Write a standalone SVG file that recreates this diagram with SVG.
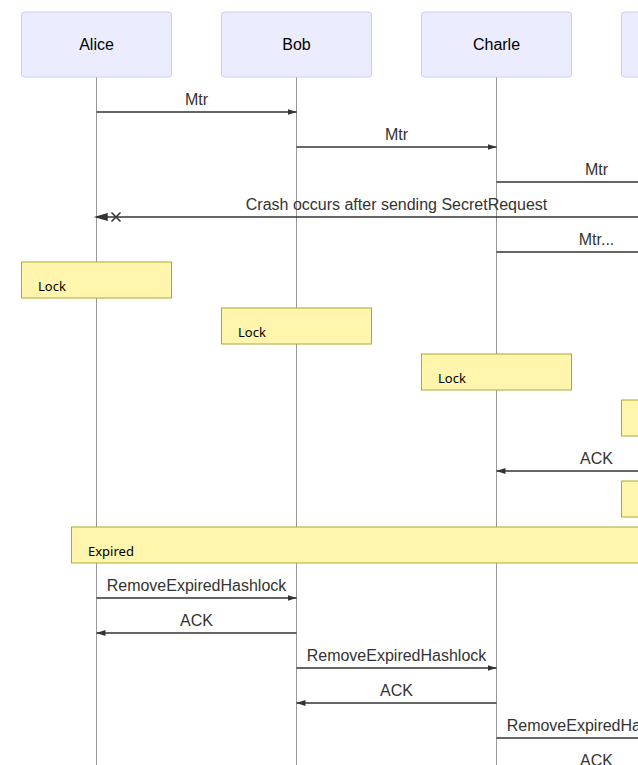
<svg xmlns="http://www.w3.org/2000/svg" width="638" height="765" viewBox="0 0 638 765">
<style>
.actor{fill:#ECECFF;stroke:#CCCCFF;stroke-width:1}
.atext{font-family:"Liberation Sans",Arial,sans-serif;font-size:16px;fill:#000;text-anchor:middle}
.life{stroke:#999;stroke-width:1}
.msg{stroke:#333;stroke-width:1.5;fill:none}
.mtext{font-family:"Liberation Sans",Arial,sans-serif;font-size:16px;fill:#333;text-anchor:middle}
.note{fill:#fff5ad;stroke:#aaaa33;stroke-width:1}
.ntext{font-family:"Noto Sans","Liberation Sans",sans-serif;font-size:13px;fill:#000}
</style>
<defs>
<marker id="arrowhead" refX="6" refY="2" markerWidth="6" markerHeight="4" orient="auto"><path d="M 0,0 V 4 L6,2 Z" fill="#333"/></marker>
<marker id="crosshead" markerWidth="16" markerHeight="8" orient="auto" refX="16" refY="4" overflow="visible"><path fill="#333" stroke="#333" stroke-width="1" d="M 9,2 V 6 L16,4 Z"/><path fill="none" stroke="#333" stroke-width="1" d="M 0,1 L 6,7 M 6,1 L 0,7"/></marker>
</defs>
<g id="lifelines">
<line class="life" x1="96.5" y1="77" x2="96.5" y2="765"/>
<line class="life" x1="296.5" y1="77" x2="296.5" y2="765"/>
<line class="life" x1="496.5" y1="77" x2="496.5" y2="765"/>
<line class="life" x1="696.5" y1="77" x2="696.5" y2="765"/>
</g>
<g id="actor-alice"><rect class="actor" x="21.5" y="12" width="150" height="65" rx="3"/><text class="atext" x="96.5" y="50">Alice</text></g>
<g id="actor-bob"><rect class="actor" x="221.5" y="12" width="150" height="65" rx="3"/><text class="atext" x="296.5" y="50">Bob</text></g>
<g id="actor-charle"><rect class="actor" x="421.5" y="12" width="150" height="65" rx="3"/><text class="atext" x="496.5" y="50">Charle</text></g>
<g id="actor-d"><rect class="actor" x="621.5" y="12" width="150" height="65" rx="3"/></g>
<g id="connectors">
<line class="msg" x1="96.5" y1="112" x2="296.5" y2="112" marker-end="url(#arrowhead)"/>
<text class="mtext" x="196.5" y="105">Mtr</text>
<line class="msg" x1="296.5" y1="147" x2="496.5" y2="147" marker-end="url(#arrowhead)"/>
<text class="mtext" x="396.5" y="140">Mtr</text>
<line class="msg" x1="496.5" y1="182" x2="696.5" y2="182" marker-end="url(#arrowhead)"/>
<text class="mtext" x="596.5" y="175">Mtr</text>
<line class="msg" x1="696.5" y1="217" x2="96.5" y2="217" marker-end="url(#crosshead)"/>
<text class="mtext" x="396.5" y="210">Crash occurs after sending SecretRequest</text>
<line class="msg" x1="496.5" y1="252" x2="696.5" y2="252" marker-end="url(#arrowhead)"/>
<text class="mtext" x="596.5" y="245">Mtr...</text>
<line class="msg" x1="696.5" y1="471" x2="496.5" y2="471" marker-end="url(#arrowhead)"/>
<text class="mtext" x="596.5" y="464">ACK</text>
<line class="msg" x1="96.5" y1="598" x2="296.5" y2="598" marker-end="url(#arrowhead)"/>
<text class="mtext" x="196.5" y="591">RemoveExpiredHashlock</text>
<line class="msg" x1="296.5" y1="633" x2="96.5" y2="633" marker-end="url(#arrowhead)"/>
<text class="mtext" x="196.5" y="626">ACK</text>
<line class="msg" x1="296.5" y1="668" x2="496.5" y2="668" marker-end="url(#arrowhead)"/>
<text class="mtext" x="396.5" y="661">RemoveExpiredHashlock</text>
<line class="msg" x1="496.5" y1="703" x2="296.5" y2="703" marker-end="url(#arrowhead)"/>
<text class="mtext" x="396.5" y="696">ACK</text>
<line class="msg" x1="496.5" y1="738" x2="696.5" y2="738" marker-end="url(#arrowhead)"/>
<text class="mtext" x="596.5" y="731">RemoveExpiredHashlock</text>
<line class="msg" x1="696.5" y1="773" x2="496.5" y2="773" marker-end="url(#arrowhead)"/>
<text class="mtext" x="596.5" y="766">ACK</text>
</g>
<g id="note-lock-alice"><rect class="note" x="21.5" y="262" width="150" height="36"/><text class="ntext" x="38" y="291">Lock</text></g>
<g id="note-lock-bob"><rect class="note" x="221.5" y="308" width="150" height="36"/><text class="ntext" x="238" y="337">Lock</text></g>
<g id="note-lock-charle"><rect class="note" x="421.5" y="354" width="150" height="36"/><text class="ntext" x="438" y="383">Lock</text></g>
<g id="note-lock-d"><rect class="note" x="621.5" y="400" width="150" height="36"/></g>
<g id="note-d-2"><rect class="note" x="621.5" y="481" width="150" height="36"/></g>
<g id="note-expired"><rect class="note" x="71.5" y="527" width="650" height="36"/><text class="ntext" x="88" y="556">Expired</text></g>
</svg>
